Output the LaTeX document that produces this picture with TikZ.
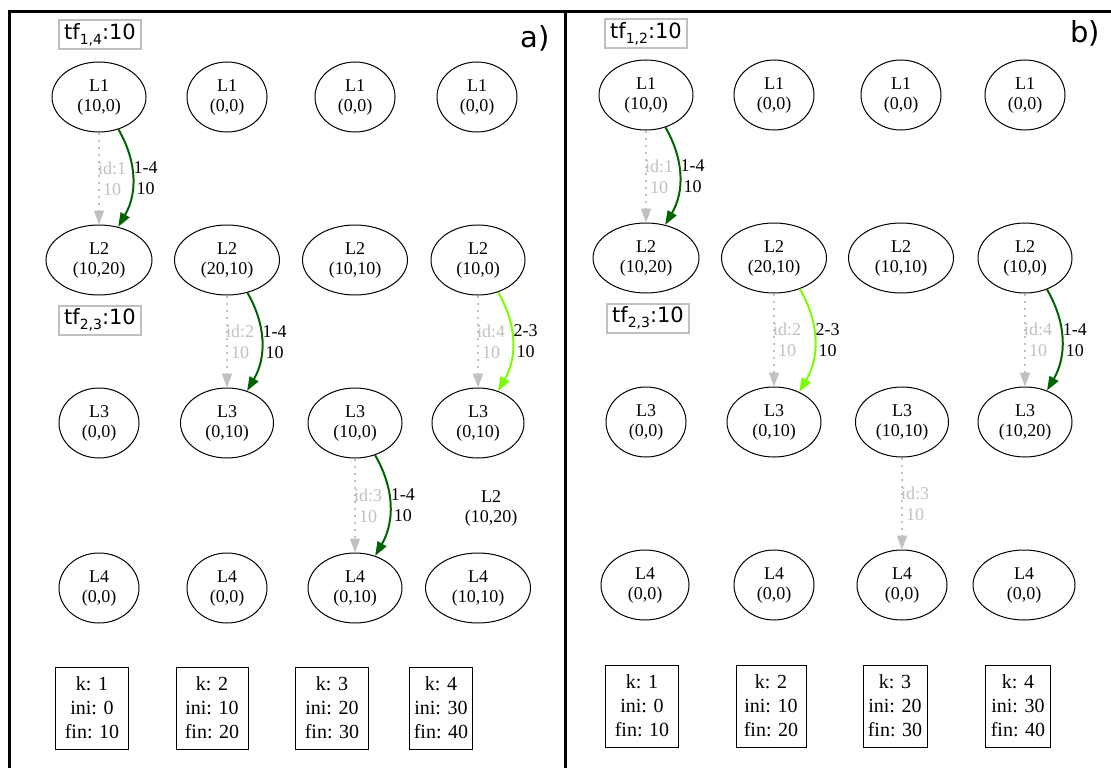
\documentclass[tikz,border=0pt]{standalone}
\usepackage{fontspec}
\setmainfont{Liberation Serif}
\newfontfamily\djv{DejaVu Sans}
\usetikzlibrary{shapes.geometric,arrows.meta}
\definecolor{dgreen}{HTML}{006400}
\definecolor{lgreen}{HTML}{7CFC00}
\definecolor{silv}{HTML}{C0C0C0}
\tikzset{
  st/.style={ellipse, draw, line width=1pt, inner sep=0pt, minimum height=70pt, align=center, font=\fontsize{18}{20}\selectfont},
  plainst/.style={align=center, inner sep=0pt, font=\fontsize{18}{20}\selectfont},
  kbox/.style={rectangle, draw, line width=1pt, minimum height=82pt, inner sep=0pt, align=center, font=\fontsize{20}{24}\selectfont},
  tfbox/.style={draw=silv, line width=2pt, inner sep=2pt, minimum height=29pt, minimum width=82pt, font=\djv\fontsize{21}{21}\selectfont},
  panel/.style={inner sep=0pt, font=\djv\fontsize{29}{29}\selectfont},
  frame/.style={line width=2.6pt, black},
  gedge/.style={silv, line width=2pt, dash pattern=on 2pt off 5pt, -{Triangle[length=14pt,width=10pt]}},
  dedge/.style={dgreen, line width=2pt, -{Triangle[length=14pt,width=10pt]}, bend left=30},
  ledge/.style={lgreen, line width=2pt, -{Triangle[length=14pt,width=10pt]}, bend left=30},
  glab/.style={silv, align=center, inner sep=0pt, xshift=13pt, font=\fontsize{18}{21}\selectfont},
  blab/.style={black, align=center, inner sep=0pt, xshift=13pt, font=\fontsize{18}{21}\selectfont},
}
\newcommand{\tfl}[1]{tf\raisebox{-0.22em}{\fontsize{14}{14}\selectfont #1}:10}
\begin{document}
\begin{tikzpicture}[x=1pt,y=-1pt]
\useasboundingbox (0,0) rectangle (1111,768);
% frame
\draw[frame] (9.5,780) -- (9.5,11.3) -- (1120,11.3);
\draw[frame] (565.5,11.3) -- (565.5,780);
\node[panel] (pa) at (535,38) {a)};
\node[panel] (pb) at (1085,33) {b)};
% ---------------- panel a ----------------
\node[tfbox] (tfa1) at (100,35) {\tfl{1,4}};
\node[tfbox] (tfa2) at (100,320) {\tfl{2,3}};
\node[st, minimum width=94pt] (a11) at (99,97) {L1\\(10,0)};
\node[st, minimum width=80pt] (a12) at (227,97) {L1\\(0,0)};
\node[st, minimum width=80pt] (a13) at (355,97) {L1\\(0,0)};
\node[st, minimum width=80pt] (a14) at (477,97) {L1\\(0,0)};
\node[st, minimum width=106pt] (a21) at (99,260) {L2\\(10,20)};
\node[st, minimum width=105pt] (a22) at (227,260) {L2\\(20,10)};
\node[st, minimum width=105pt] (a23) at (355,260) {L2\\(10,10)};
\node[st, minimum width=94pt] (a24) at (478,260) {L2\\(10,0)};
\node[st, minimum width=80pt] (a31) at (99,423) {L3\\(0,0)};
\node[st, minimum width=93pt] (a32) at (227,423) {L3\\(0,10)};
\node[st, minimum width=94pt] (a33) at (355,423) {L3\\(10,0)};
\node[st, minimum width=92pt] (a34) at (478,423) {L3\\(0,10)};
\node[st, minimum width=80pt] (a41) at (99,588) {L4\\(0,0)};
\node[st, minimum width=80pt] (a42) at (227,588) {L4\\(0,0)};
\node[st, minimum width=94pt] (a43) at (355,588) {L4\\(0,10)};
\node[st, minimum width=105pt] (a44) at (478,588) {L4\\(10,10)};
\node[plainst] (ax) at (491,508) {L2\\(10,20)};
\node[kbox, minimum width=73pt] (ka1) at (92,708) {k: 1\\ini: 0\\fin: 10};
\node[kbox, minimum width=72pt] (ka2) at (212,708) {k: 2\\ini: 10\\fin: 20};
\node[kbox, minimum width=73pt] (ka3) at (332,708) {k: 3\\ini: 20\\fin: 30};
\node[kbox, minimum width=63pt] (ka4) at (441,708) {k: 4\\ini: 30\\fin: 40};
% edges a
\draw[gedge] (a11.south) -- node[glab] {id:1\\10} (a21.north);
\draw[dedge] (a11.-59) to node[blab] {1-4\\10} (a21.60);
\draw[gedge] (a22.south) -- node[glab] {id:2\\10} (a32.north);
\draw[dedge] (a22.-58) to node[blab] {1-4\\10} (a32.58);
\draw[gedge] (a33.south) -- node[glab] {id:3\\10} (a43.north);
\draw[dedge] (a33.-58) to node[blab] {1-4\\10} (a43.58);
\draw[gedge] (a24.south) -- node[glab] {id:4\\10} (a34.north);
\draw[ledge] (a24.-58) to node[blab] {2-3\\10} (a34.58);
% ---------------- panel b ----------------
\node[tfbox] (tfb1) at (646,34) {\tfl{1,2}};
\node[tfbox] (tfb2) at (648,318) {\tfl{2,3}};
\node[st, minimum width=94pt] (b11) at (646,95) {L1\\(10,0)};
\node[st, minimum width=80pt] (b12) at (774,95) {L1\\(0,0)};
\node[st, minimum width=80pt] (b13) at (901,95) {L1\\(0,0)};
\node[st, minimum width=80pt] (b14) at (1025,95) {L1\\(0,0)};
\node[st, minimum width=106pt] (b21) at (646,258) {L2\\(10,20)};
\node[st, minimum width=105pt] (b22) at (774,258) {L2\\(20,10)};
\node[st, minimum width=105pt] (b23) at (901,258) {L2\\(10,10)};
\node[st, minimum width=94pt] (b24) at (1025,258) {L2\\(10,0)};
\node[st, minimum width=80pt] (b31) at (646,422) {L3\\(0,0)};
\node[st, minimum width=94pt] (b32) at (774,422) {L3\\(0,10)};
\node[st, minimum width=93pt] (b33) at (902,422) {L3\\(10,10)};
\node[st, minimum width=94pt] (b34) at (1025,422) {L3\\(10,20)};
\node[st, minimum width=88pt] (b41) at (645,585) {L4\\(0,0)};
\node[st, minimum width=80pt] (b42) at (774,585) {L4\\(0,0)};
\node[st, minimum width=90pt] (b43) at (902,585) {L4\\(0,0)};
\node[st, minimum width=102pt] (b44) at (1024,585) {L4\\(0,0)};
\node[kbox, minimum width=73pt] (kb1) at (642,706) {k: 1\\ini: 0\\fin: 10};
\node[kbox, minimum width=70pt] (kb2) at (771,706) {k: 2\\ini: 10\\fin: 20};
\node[kbox, minimum width=64pt] (kb3) at (895,706) {k: 3\\ini: 20\\fin: 30};
\node[kbox, minimum width=65pt] (kb4) at (1018,706) {k: 4\\ini: 30\\fin: 40};
% edges b
\draw[gedge] (b11.south) -- node[glab] {id:1\\10} (b21.north);
\draw[dedge] (b11.-59) to node[blab] {1-4\\10} (b21.60);
\draw[gedge] (b22.south) -- node[glab] {id:2\\10} (b32.north);
\draw[ledge] (b22.-50) to node[blab] {2-3\\10} (b32.50);
\draw[gedge] (b33.south) -- node[glab] {id:3\\10} (b43.north);
\draw[gedge] (b24.south) -- node[glab] {id:4\\10} (b34.north);
\draw[dedge] (b24.-55) to node[blab] {1-4\\10} (b34.55);
\end{tikzpicture}
\end{document}
